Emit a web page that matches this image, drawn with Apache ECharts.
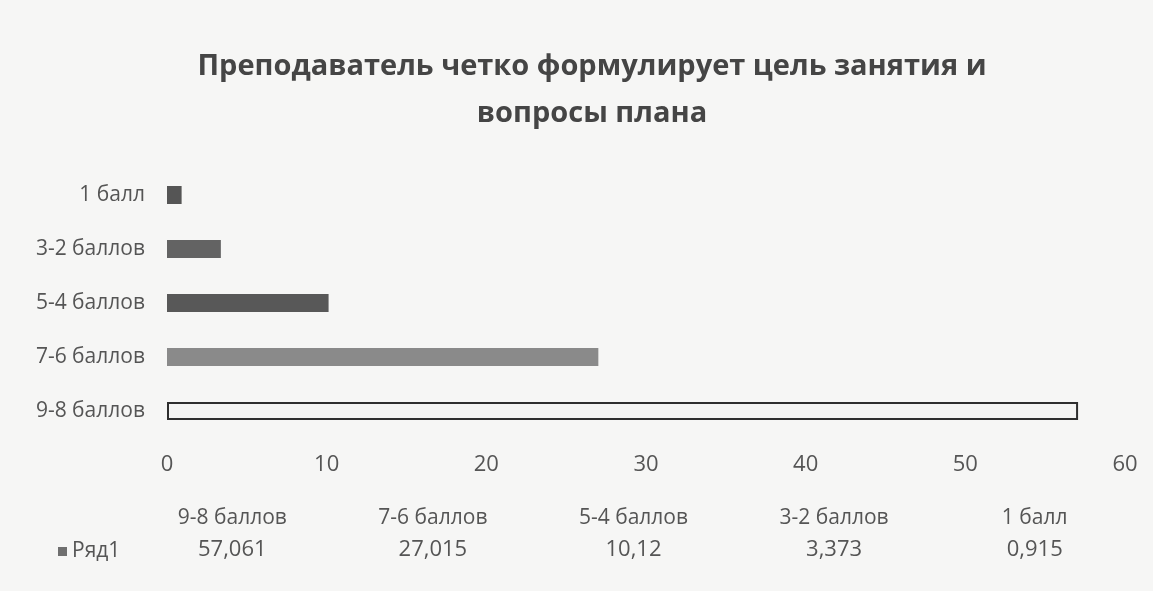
<!DOCTYPE html>
<html>
<head>
<meta charset="utf-8">
<script src="https://cdn.jsdelivr.net/npm/echarts@6/dist/echarts.min.js"></script>
<style>
  html, body { margin: 0; padding: 0; background: #f6f6f5; }
  #chart { width: 1153px; height: 591px; }
</style>
</head>
<body>
<div id="chart"></div>
<script>
// данные диаграммы
const categories = ['9-8 баллов', '7-6 баллов', '5-4 баллов', '3-2 баллов', '1 балл']
const values = [57.061, 27.015, 10.12, 3.373, 0.915]
const valueLabels = ['57,061', '27,015', '10,12', '3,373', '0,915']
const seriesName = 'Ряд1'

// оттенки столбцов как на скане
const barStyles = [
  { color: '#f4f4f3', borderColor: '#2e2e2e', borderWidth: 2 },
  { color: '#8a8a8a' },
  { color: '#585858' },
  { color: '#636363' },
  { color: '#555555' }
]

const chart = echarts.init(document.getElementById('chart'))
const font = "'Open Sans', 'Noto Sans', sans-serif"

chart.setOption({
  backgroundColor: '#f6f6f5',
  textStyle: { fontFamily: font },
  title: {
    text: 'Преподаватель четко формулирует цель занятия и\nвопросы плана',
    left: 587,
    textAlign: 'center',
    top: 38,
    textStyle: {
      fontFamily: font,
      fontSize: 29,
      fontWeight: 'bold',
      color: '#454545',
      lineHeight: 47
    }
  },
  legend: {
    data: [seriesName],
    left: 53,
    top: 536,
    icon: 'rect',
    itemWidth: 9,
    itemHeight: 9,
    itemGap: 4,
    textStyle: { fontSize: 21, color: '#555', fontFamily: font }
  },
  grid: [
    { left: 167, right: 28, top: 168, height: 270 },
    { left: 132, right: 18, top: 491, height: 4 }
  ],
  xAxis: [
    {
      type: 'value',
      gridIndex: 0,
      min: 0,
      max: 60,
      interval: 10,
      axisLine: { show: false },
      axisTick: { show: false },
      splitLine: { show: false },
      axisLabel: { fontSize: 22, color: '#555', margin: 16, fontFamily: font }
    },
    {
      type: 'category',
      gridIndex: 1,
      data: categories,
      axisLine: { show: false },
      axisTick: { show: false },
      axisLabel: {
        margin: 8,
        color: '#555',
        fontFamily: font,
        formatter: (v, i) => '{c|' + v + '}\n{v|' + valueLabels[i] + '}',
        rich: {
          c: { fontSize: 21, color: '#555', lineHeight: 31, fontFamily: font },
          v: { fontSize: 22, color: '#555', lineHeight: 31, fontFamily: font }
        }
      }
    }
  ],
  yAxis: [
    {
      type: 'category',
      gridIndex: 0,
      data: categories,
      axisLine: { show: false },
      axisTick: { show: false },
      axisLabel: { fontSize: 21, color: '#555', margin: 22, fontFamily: font }
    },
    {
      type: 'value',
      gridIndex: 1,
      show: false
    }
  ],
  series: [
    {
      name: seriesName,
      type: 'bar',
      xAxisIndex: 0,
      yAxisIndex: 0,
      barWidth: 18,
      itemStyle: { color: '#6f6f6f' },
      data: values.map((v, i) => ({ value: v, itemStyle: barStyles[i] }))
    }
  ]
})
</script>
</body>
</html>
